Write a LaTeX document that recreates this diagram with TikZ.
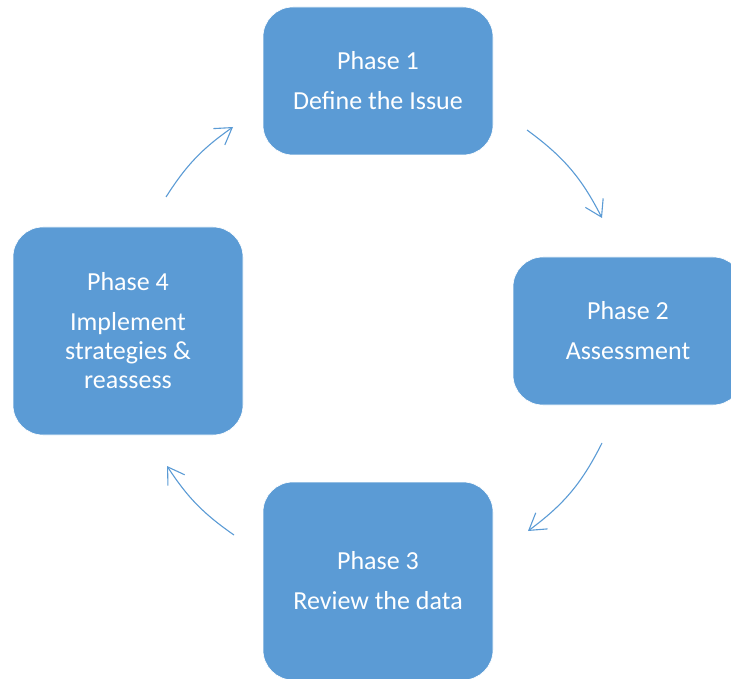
\documentclass[tikz,border=0pt]{standalone}
\usepackage{fontspec}
\setmainfont{Carlito}
\usetikzlibrary{arrows.meta}
\definecolor{boxblue}{HTML}{5B9BD5}
\begin{document}
\begin{tikzpicture}[x=1pt,y=-1pt,
  phase/.style={fill=boxblue, draw=white, line width=0.6pt, rounded corners=30pt,
    text=white, align=center, font=\fontsize{26}{29}\selectfont, inner sep=0pt},
  cyc/.style={draw=boxblue, line width=1.1pt, -{Straight Barb[length=16pt,width=20pt]}}]
\useasboundingbox (0,0) rectangle (731,679);
\clip (0,0) rectangle (731,679);
\node[phase, minimum width=230pt, minimum height=148pt] (p1) at (378,81) {Phase 1\\[11pt]Define the Issue};
\node[phase, minimum width=230pt, minimum height=148pt] (p2) at (628,331) {Phase 2\\[11pt]Assessment};
\node[phase, minimum width=230pt, minimum height=198pt] (p3) at (378,581) {Phase 3\\[11pt]Review the data};
\node[phase, minimum width=230pt, minimum height=208pt] (p4) at (128,331) {Phase 4\\[11pt]Implement\\strategies \&\\reassess};
\coordinate (a1s) at (527,130);
\coordinate (a1e) at (602,218);
\coordinate (a2s) at (602,443);
\coordinate (a2e) at (528,531);
\coordinate (a3s) at (234,535);
\coordinate (a3e) at (167,466);
\coordinate (a4s) at (166,197);
\coordinate (a4e) at (233,127);
\draw[cyc] (a1s) to[bend left=13.4] (a1e);
\draw[cyc] (a2s) to[bend left=13.4] (a2e);
\draw[cyc] (a3s) to[bend left=11] (a3e);
\draw[cyc] (a4s) to[bend left=11.2] (a4e);
\end{tikzpicture}
\end{document}
